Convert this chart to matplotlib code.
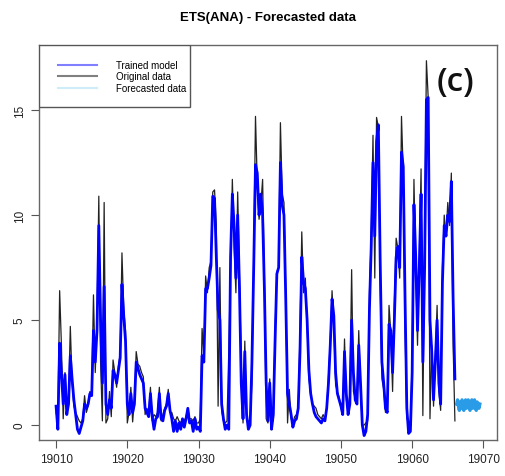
import matplotlib
matplotlib.use("Agg")
import matplotlib.pyplot as plt
from matplotlib.lines import Line2D
from matplotlib.patches import Rectangle
import numpy as np

plt.rcParams['font.family'] = ['Liberation Sans', 'DejaVu Sans']

# time axis: quarter steps from 19010 to 19066
t = np.arange(19010, 19066.01, 0.25)

# original data
original = [
    0.6, 0.2, 6.4, 3.8,   0.3, 2.5, 0.8, 1.2,
    4.7, 2.0, 0.9, 0.6,   0.4, 0.2, 0.1, 0.3,
    1.4, 0.6, 0.9, 1.6,   1.5, 6.2, 2.5, 5.0,
    10.9, 3.0, 0.2, 10.6, 0.1, 0.3, 1.6, 0.4,
    3.1, 2.5, 1.8, 2.8,   3.4, 8.2, 5.5, 4.5,
    0.1, 0.6, 1.8, 0.15,  1.2, 3.5, 2.9, 2.8,
    2.5, 2.3, 0.5, 0.8,   0.6, 1.8, 0.2, 0.5,
    0.4, 0.6, 1.8, 0.2,   0.5, 0.8, 1.0, 1.7,
    0.6, 0.6, 0.3, 0.2,   0.4, 0.2, 0.1, 0.3,
    0.2, 0.4, 0.8, 0.3,   0.3, 0.2, 0.4, 0.1,
    0.1, 0.3, 4.6, 3.3,   7.1, 6.3, 7.5, 7.8,
    11.1, 11.2, 9.5, 0.9, 7.5, 0.7, 0.2, 0.1,
    0.2, 3.5, 7.5, 11.7,  8.5, 6.3, 11.1, 7.1,
    3.0, 0.1, 4.0, 0.2,   0.2, 0.2, 2.0, 8.0,
    14.7, 11.5, 9.8, 10.5, 11.7, 7.0, 0.3, 0.1,
    2.2, 0.5, 0.2, 4.5,   7.3, 7.5, 14.4, 11.0,
    10.6, 6.3, 0.1, 1.7,  0.3, 0.1, 0.4, 0.5,
    0.8, 4.5, 9.2, 6.3,   7.0, 4.8, 2.2, 1.5,
    1.0, 0.9, 0.8, 0.5,   0.4, 0.3, 0.5, 0.3,
    0.8, 2.3, 4.0, 6.4,   4.8, 1.9, 1.6, 1.3,
    0.8, 0.6, 4.1, 1.2,   0.7, 1.5, 7.4, 1.6,
    1.3, 1.1, 4.5, 1.6,   0.0, 0.0, 0.1, 0.2,
    6.3, 9.0, 13.8, 7.0,  14.65, 14.2, 7.0, 2.2,
    1.7, 0.6, 0.8, 5.7,   4.4, 1.6, 5.8, 8.9,
    8.4, 7.0, 14.7, 12.0, 4.6, 0.3, 0.2, 0.1,
    3.0, 11.7, 7.5, 3.8,  7.9, 12.2, 0.45, 8.4,
    17.35, 15.6, 0.3, 3.8, 0.9, 3.3, 5.7, 1.6,
    0.7, 7.5, 10.0, 9.0,  10.6, 9.5, 12.0, 3.8,
    0.2,
]

# fitted values of the model
trained = [
    0.9, -0.2, 3.9, 2.5,  1.0, 2.4, 0.5, 1.0,
    3.3, 2.2, 1.2, 0.5,   -0.2, -0.4, -0.1, 0.2,
    1.0, 0.8, 1.0, 1.5,   1.4, 4.5, 3.0, 4.5,
    9.5, 5.0, 2.0, 6.6,   1.0, 0.5, 1.2, 0.8,
    2.6, 2.4, 2.0, 2.6,   3.2, 6.7, 5.2, 4.0,
    1.0, 0.5, 1.5, 0.6,   1.0, 3.0, 2.7, 2.4,
    2.2, 2.0, 0.8, 0.6,   0.4, 1.5, 0.4, -0.2,
    0.3, 0.4, 1.5, 0.3,   0.2, 0.7, 0.9, 1.5,
    0.7, 0.3, -0.3, 0.2,  -0.3, 0.1, -0.2, 0.3,
    -0.1, 0.3, 0.8, 0.1,  0.2, -0.3, 0.3, -0.2,
    -0.1, -0.3, 3.3, 3.0, 6.5, 6.5, 7.0, 7.6,
    10.9, 10.8, 8.0, 5.5, 5.0, 1.0, 0.3, -0.2,
    0.0, -0.2, 8.0, 11.0, 9.5, 7.0, 10.0, 6.5,
    2.0, 0.3, 3.5, 0.5,   -0.2, 0.0, 3.0, 7.5,
    12.4, 12.0, 10.0, 11.0, 10.0, 6.5, 2.0, 0.2,
    2.0, -0.2, 0.5, 4.0,  7.2, 7.5, 12.5, 10.5,
    10.0, 6.0, 1.5, 1.0,  0.5, -0.1, 0.2, 0.3,
    0.8, 3.5, 8.0, 6.8,   6.5, 5.0, 2.6, 1.5,
    1.0, 0.6, 0.4, 0.3,   0.2, 0.1, 0.3, 0.2,
    0.8, 2.0, 3.8, 6.0,   5.2, 2.5, 1.5, 1.2,
    0.9, 0.5, 3.5, 1.5,   0.5, 1.0, 5.0, 2.5,
    1.2, 1.0, 3.8, 2.0,   0.0, -0.5, -0.3, 0.5,
    5.5, 8.5, 12.5, 9.0,  13.5, 14.3, 8.0, 3.0,
    2.0, 0.8, 0.6, 4.8,   4.5, 2.5, 5.0, 8.0,
    8.5, 7.5, 13.0, 12.3, 6.0, 0.8, -0.4, -0.3,
    2.5, 10.5, 8.0, 4.5,  7.5, 11.0, 3.0, 7.5,
    15.5, 15.6, 5.0, 3.5, 1.2, 3.0, 5.0, 2.0,
    1.0, 6.8, 9.5, 9.0,   10.0, 9.7, 11.6, 6.0,
    2.2,
]

# forecast
t_fc = np.arange(19066.25, 19069.51, 0.125)
forecast = [1.0, 1.2, 0.9, 0.7, 1.1, 0.8, 1.2, 1.0, 0.7, 1.1, 1.2, 0.8, 0.9, 1.2,
            0.9, 0.7, 1.1, 1.2, 0.8, 1.0, 1.2, 0.8, 0.7, 1.1, 1.0, 0.8, 1.0]

fig = plt.figure(figsize=(5.05, 4.77), dpi=100)
ax = fig.add_axes([0.0772, 0.0755, 0.9068, 0.8281])

ax.plot(t, original, color='#222222', lw=0.9)
ax.plot(t, trained, color='#0000ff', lw=2.0)
ax.plot(t_fc, forecast, color='#2a9be6', lw=2.4)

ax.set_xlim(19007.6, 19071.9)
ax.set_ylim(-0.71, 18.1)
ax.set_xticks([19010, 19020, 19030, 19040, 19050, 19060, 19070])
ax.set_yticks([0, 5, 10, 15])
ax.tick_params(labelsize=8.5, length=6, color='#555555', labelcolor='#222222')
for lab in ax.get_yticklabels():
    lab.set_rotation(90)
    lab.set_va('center')
for s in ax.spines.values():
    s.set_color('#666666')
    s.set_linewidth(1.0)

ax.set_title('ETS(ANA) - Forecasted data', fontsize=9.5, fontweight='bold', pad=18)

# legend box drawn separately (R style: wide left margin)
ax.add_patch(Rectangle((0, 0.843), 0.3297, 0.157, transform=ax.transAxes,
                       facecolor='white', edgecolor='#555555', lw=1.0, zorder=4))
handles = [Line2D([], [], color='#8080ff', lw=1.5),
           Line2D([], [], color='#808080', lw=1.5),
           Line2D([], [], color='#cdeef8', lw=1.5)]
leg = ax.legend(handles, ['Trained model', 'Original data', 'Forecasted data'],
                loc='upper left', bbox_to_anchor=(0.0415, 0.962), borderaxespad=0,
                borderpad=0, fontsize=7, frameon=False, handlelength=4,
                handletextpad=2, labelspacing=0.15)
leg.set_zorder(5)

fig.text(0.901, 0.826, '(c)', fontsize=24, family='Open Sans', fontweight='semibold',
         ha='center', va='center', color='#111111')

fig.savefig('out.png', dpi=100)
